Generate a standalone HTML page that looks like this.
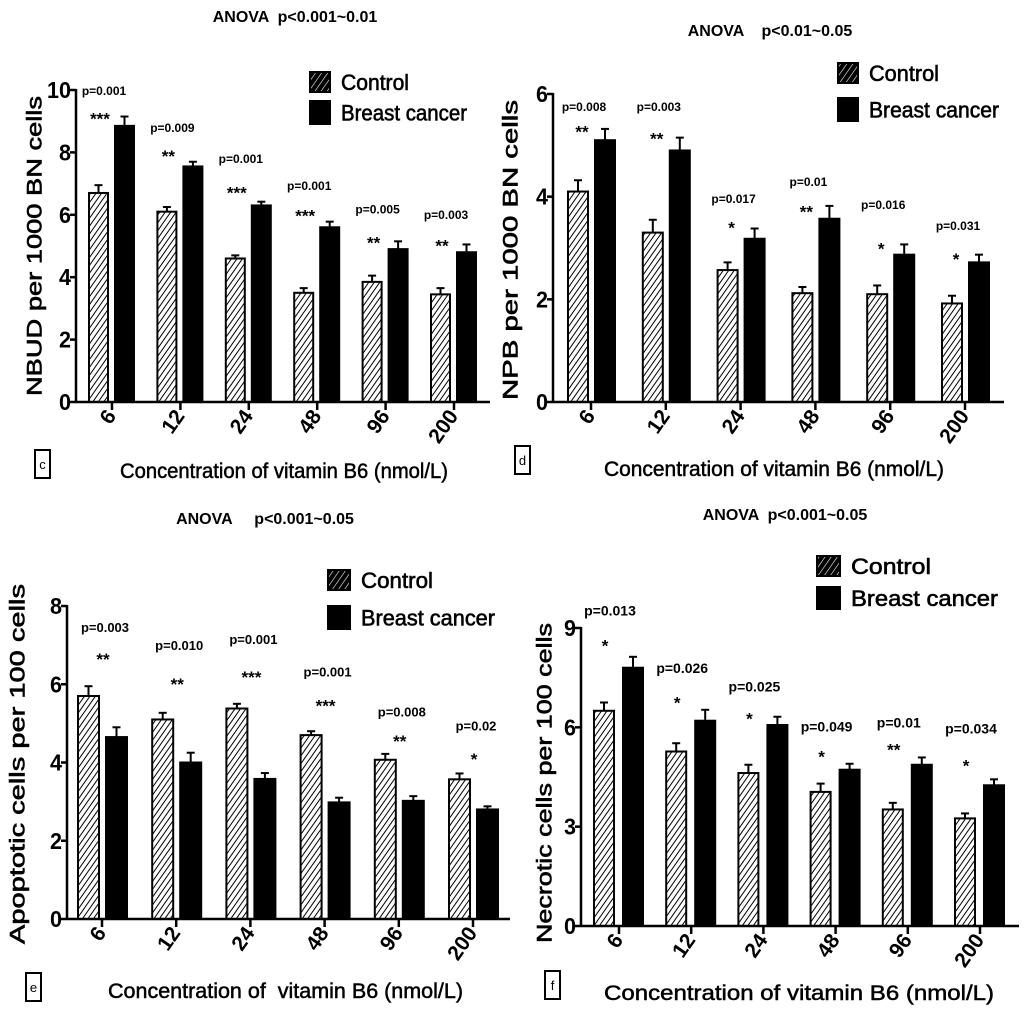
<!DOCTYPE html>
<html><head><meta charset="utf-8"><style>
html,body{margin:0;padding:0;background:#fff;}
svg{display:block;font-family:"Liberation Sans",sans-serif;}
text{font-weight:bold;fill:#000;}
</style></head><body>
<svg id="fig" width="1024" height="1014" viewBox="0 0 1024 1014" xmlns="http://www.w3.org/2000/svg">
<defs>
<pattern id="hatch" patternUnits="userSpaceOnUse" width="4.5" height="4.5" patternTransform="rotate(35)">
<rect width="4.5" height="4.5" fill="#fff"/><line x1="0" y1="0" x2="0" y2="4.5" stroke="#000" stroke-width="2"/>
</pattern>
<pattern id="hatchLeg" patternUnits="userSpaceOnUse" width="5" height="5" patternTransform="rotate(35)">
<rect width="5" height="5" fill="#000"/><line x1="0" y1="0" x2="0" y2="5" stroke="#fff" stroke-width="1.2"/>
</pattern>
</defs>
</svg>
<script>
const categories = ["6","12","24","48","96","200"];
// panel c
const cControl = [6.7,6.1,4.6,3.5,3.85,3.45];
const cControlErr = [0.25,0.15,0.1,0.15,0.2,0.2];
const cCancer = [8.85,7.55,6.3,5.6,4.9,4.8];
const cCancerErr = [0.3,0.15,0.12,0.18,0.25,0.25];
const cPText = ["p=0.001","p=0.009","p=0.001","p=0.001","p=0.005","p=0.003"];
const cStars = ["***","**","***","***","**","**"];
const cPY = [9.94,8.75,7.76,6.9,6.15,5.96];
const cStarY = [9.2,8.0,6.83,6.09,5.22,5.13];
const cTicks = [0,2,4,6,8,10];
// panel d
const dControl = [4.1,3.3,2.57,2.12,2.1,1.92];
const dControlErr = [0.22,0.25,0.15,0.12,0.17,0.15];
const dCancer = [5.1,4.9,3.18,3.57,2.87,2.72];
const dCancerErr = [0.22,0.25,0.2,0.25,0.2,0.15];
const dPText = ["p=0.008","p=0.003","p=0.017","p=0.01","p=0.016","p=0.031"];
const dStars = ["**","**","*","**","*","*"];
const dPY = [5.73,5.73,3.94,4.27,3.82,3.41];
const dStarY = [5.34,5.2,3.47,3.78,3.06,2.85];
const dTicks = [0,2,4,6];
// panel e
const eControl = [5.7,5.1,5.38,4.7,4.07,3.57];
const eControlErr = [0.25,0.17,0.12,0.1,0.15,0.15];
const eCancer = [4.65,4.0,3.58,2.98,3.02,2.8];
const eCancerErr = [0.25,0.25,0.15,0.12,0.12,0.08];
const ePText = ["p=0.003","p=0.010","p=0.001","p=0.001","p=0.008","p=0.02"];
const eStars = ["**","**","***","***","**","*"];
const ePY = [7.42,6.96,7.12,6.28,5.26,4.9];
const eStarY = [6.73,6.1,6.28,5.54,4.64,4.18];
const eTicks = [0,2,4,6,8];
// panel f
const fControl = [6.5,5.27,4.62,4.05,3.52,3.25];
const fControlErr = [0.25,0.25,0.25,0.25,0.2,0.15];
const fCancer = [7.8,6.2,6.07,4.72,4.87,4.25];
const fCancerErr = [0.33,0.33,0.25,0.18,0.22,0.18];
const fPText = ["p=0.013","p=0.026","p=0.025","p=0.049","p=0.01","p=0.034"];
const fStars = ["*","*","*","*","**","*"];
const fPY = [9.49,7.76,7.19,5.98,6.1,5.92];
const fStarY = [8.58,6.86,6.37,5.23,5.44,4.95];
const fTicks = [0,3,6,9];

const NS="http://www.w3.org/2000/svg";
const svg=document.getElementById('fig');
function mk(tag,attrs,parent,txt){const e=document.createElementNS(NS,tag);for(const k in attrs)e.setAttribute(k,attrs[k]);if(txt!==undefined)e.textContent=txt;(parent||svg).appendChild(e);return e;}

function panel(cfg){
  const g=mk('g',{});
  
  
  const y=v=>cfg.y0-(v/cfg.ymax)*(cfg.y0-cfg.ytop);
  const x=i=>cfg.x0tick+i*cfg.step;
  const t=mk('text',{x:cfg.titleX,y:cfg.titleY,'text-anchor':'middle','font-size':16,style:'white-space:pre'},g,cfg.title);
  
  
  categories.forEach((c,i)=>{
    const cx=x(i);
    [[cfg.ctrl,cfg.ctrlErr,cx-cfg.gapL-cfg.bw,'url(#hatch)','control'],[cfg.bc,cfg.bcErr,cx+cfg.gapR,'#000','cancer']].forEach(([vals,errs,bx,fill,nm])=>{
      const v=vals[i],e=errs[i];
      const ex=bx+cfg.bw/2;
      const el=mk('line',{x1:ex,x2:ex,y1:y(v),y2:y(v+e),stroke:'#000','stroke-width':2},g);
      
      
      const cap=mk('line',{x1:ex-4,x2:ex+4,y1:y(v+e),y2:y(v+e),stroke:'#000','stroke-width':2},g);
      
      
      const r=mk('rect',{x:bx,y:y(v),width:cfg.bw,height:y(0)-y(v),fill:fill,stroke:'#000','stroke-width':2},g);
      
      
    });
    const p=mk('text',{x:cx+cfg.pdx,y:y(cfg.pY[i]),'text-anchor':'middle','dominant-baseline':'middle','font-size':cfg.pfs},g,cfg.pText[i]);
    
    
    const s=mk('text',{x:cx+cfg.sdx,y:y(cfg.starY[i])+5,'text-anchor':'middle','dominant-baseline':'middle','font-size':17},g,cfg.stars[i]);
    
    
    const tk=mk('line',{x1:cx,x2:cx,y1:cfg.y0,y2:cfg.y0+8,stroke:'#000','stroke-width':2.5},g);
    
    
    const tl=mk('text',{x:0,y:0,'text-anchor':'end','font-size':21,transform:`translate(${cx+5},${cfg.y0+14}) rotate(-55)`},g,c);
    
    
  });
  const ya=mk('line',{x1:cfg.xaxis,x2:cfg.xaxis,y1:cfg.ytop-1,y2:cfg.y0+1,stroke:'#000','stroke-width':2.5},g);
  
  
  const xa=mk('line',{x1:cfg.xaxis,x2:cfg.xend,y1:cfg.y0,y2:cfg.y0,stroke:'#000','stroke-width':2.5},g);
  
  
  cfg.ticks.forEach(v=>{
    const l=mk('line',{x1:cfg.xaxis-6,x2:cfg.xaxis,y1:y(v),y2:y(v),stroke:'#000','stroke-width':2.5},g);
    
    
    const tt=mk('text',{x:cfg.xaxis-5,y:y(v)+8,'text-anchor':'end','font-size':23,textLength:String(v).length*12,lengthAdjust:'spacingAndGlyphs'},g,String(v));
    
    
  });
  const yt=mk('text',{x:0,y:0,'text-anchor':'middle','dominant-baseline':'middle','font-size':21,textLength:cfg.ytLen,lengthAdjust:'spacingAndGlyphs',transform:`translate(${cfg.ytX},${cfg.ytY}) rotate(-90)`,style:'font-weight:normal;stroke:#000;stroke-width:0.6'},g,cfg.ytitle);
  
  
  const xt=mk('text',{x:cfg.xtX,y:cfg.xtY,'font-size':21,textLength:cfg.xtLen,lengthAdjust:'spacingAndGlyphs',style:'white-space:pre;font-weight:normal;stroke:#000;stroke-width:0.5'},g,cfg.xtitle);
  
  
  const lb=mk('rect',{x:cfg.lbX,y:cfg.lbY,width:15,height:28,fill:'#fff',stroke:'#000','stroke-width':2},g);
  
  
  const lt=mk('text',{x:cfg.lbX+7.5,y:cfg.lbY+19,'text-anchor':'middle','font-size':13,style:'font-weight:normal'},g,cfg.id);
  
  
  const lg=mk('g',{},g);
  
  
  const s1=mk('rect',{x:cfg.legX,y:cfg.legY,width:cfg.legW,height:cfg.legH1,fill:'url(#hatchLeg)',stroke:'#000','stroke-width':2},lg);
  
  
  const t1=mk('text',{x:cfg.legX+cfg.legW+11,y:cfg.legY+cfg.legH1/2+8,'font-size':22,textLength:cfg.legL1,lengthAdjust:'spacingAndGlyphs',style:'font-weight:normal;stroke:#000;stroke-width:0.6'},lg,'Control');
  
  
  const s2=mk('rect',{x:cfg.legX,y:cfg.legY2,width:cfg.legW,height:cfg.legH2,fill:'#000',stroke:'#000','stroke-width':2},lg);
  
  
  const t2=mk('text',{x:cfg.legX+cfg.legW+11,y:cfg.legY2+cfg.legH2/2+8,'font-size':22,textLength:cfg.legL2,lengthAdjust:'spacingAndGlyphs',style:'font-weight:normal;stroke:#000;stroke-width:0.6'},lg,'Breast cancer');
  
  
}

panel({id:'c',title:'ANOVA  p<0.001~0.01',titleX:295,titleY:22,
  ctrl:cControl,ctrlErr:cControlErr,bc:cCancer,bcErr:cCancerErr,pText:cPText,stars:cStars,pY:cPY,starY:cStarY,ticks:cTicks,
  ymax:10,y0:402,ytop:90,xaxis:76,xend:490,x0tick:112,step:68.4,bw:19,gapL:4,gapR:3,pdx:-8,sdx:-12,pfs:12,
  ytitle:'NBUD per 1000 BN cells',ytX:36,ytY:246,ytLen:300,
  xtitle:'Concentration of vitamin B6 (nmol/L)',xtX:120,xtY:478,xtLen:328,lbX:35,lbY:450,
  legX:310,legY:72,legW:20,legH1:20,legY2:101,legH2:23,legL1:68,legL2:126});
panel({id:'d',title:'ANOVA    p<0.01~0.05',titleX:770,titleY:36,
  ctrl:dControl,ctrlErr:dControlErr,bc:dCancer,bcErr:dCancerErr,pText:dPText,stars:dStars,pY:dPY,starY:dStarY,ticks:dTicks,
  ymax:6,y0:402,ytop:94,xaxis:553,xend:1004,x0tick:591,step:74.8,bw:20,gapL:3,gapR:4,pdx:-7,sdx:-9,pfs:12,
  ytitle:'NPB per 1000 BN cells',ytX:512,ytY:250,ytLen:300,
  xtitle:'Concentration of vitamin B6 (nmol/L)',xtX:604,xtY:476,xtLen:340,lbX:515,lbY:446,
  legX:838,legY:63,legW:20,legH1:20,legY2:98,legH2:23,legL1:70,legL2:130});
panel({id:'e',title:'ANOVA     p<0.001~0.05',titleX:265,titleY:524,
  ctrl:eControl,ctrlErr:eControlErr,bc:eCancer,bcErr:eCancerErr,pText:ePText,stars:eStars,pY:ePY,starY:eStarY,ticks:eTicks,
  ymax:8,y0:919,ytop:606,xaxis:67,xend:510,x0tick:102,step:74.2,bw:21,gapL:3,gapR:4,pdx:3,sdx:1,pfs:13,
  ytitle:'Apoptotic cells per 100 cells',ytX:19,ytY:764,ytLen:360,
  xtitle:'Concentration of  vitamin B6 (nmol/L)',xtX:108,xtY:998,xtLen:355,lbX:26,lbY:973,
  legX:328,legY:570,legW:22,legH1:20,legY2:606,legH2:23,legL1:72,legL2:134});
panel({id:'f',title:'ANOVA  p<0.001~0.05',titleX:785,titleY:520,
  ctrl:fControl,ctrlErr:fControlErr,bc:fCancer,bcErr:fCancerErr,pText:fPText,stars:fStars,pY:fPY,starY:fStarY,ticks:fTicks,
  ymax:9,y0:926,ytop:628,xaxis:581,xend:1019,x0tick:619,step:72.2,bw:20,gapL:5,gapR:4,pdx:-9,sdx:-14,pfs:14,
  ytitle:'Necrotic cells per 100 cells',ytX:546,ytY:783,ytLen:320,
  xtitle:'Concentration of vitamin B6 (nmol/L)',xtX:604,xtY:1000,xtLen:390,lbX:545,lbY:971,
  legX:817,legY:556,legW:23,legH1:20,legY2:587,legH2:22,legL1:80,legL2:147});
</script>
</body></html>
